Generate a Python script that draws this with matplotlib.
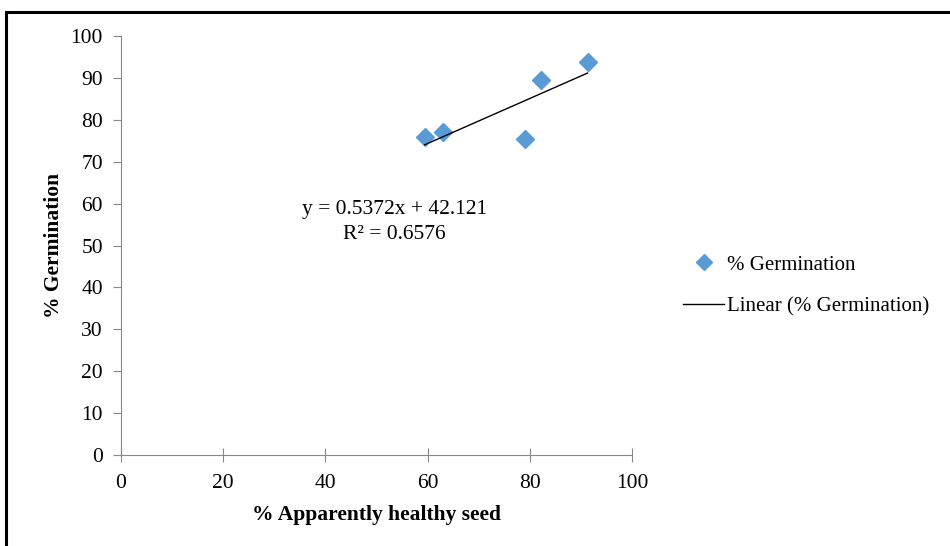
import matplotlib.pyplot as plt
import numpy as np
from matplotlib.patches import Rectangle
from matplotlib.lines import Line2D

healthy = [59.4, 63.0, 79.1, 82.2, 91.3]
germination = [75.8, 77.1, 75.5, 89.5, 93.9]
slope = 0.5372
intercept = 42.121
x_ticks = [0, 20, 40, 60, 80, 100]
y_ticks = [0, 10, 20, 30, 40, 50, 60, 70, 80, 90, 100]

plt.rcParams['font.family'] = ['Liberation Serif', 'DejaVu Serif']

fig = plt.figure(figsize=(9.5, 5.46), dpi=100)
ax = fig.add_axes([0.1274, 0.1667, 0.5379, 0.7673])

# frame around the picture (right and bottom cut off)
fig.patches.append(Rectangle((6/950, -0.1), 1.2, 1 - 12/546 + 0.1, transform=fig.transFigure,
                             fill=False, edgecolor='black', linewidth=2.2))

ax.plot(healthy, germination, linestyle='none', marker='D', markersize=9.5,
        color='#5B9BD5', label='% Germination')

xl = np.array([min(healthy), max(healthy)])
ax.plot(xl, slope*xl + intercept, color='black', linewidth=1.0,
        label='Linear (% Germination)')

ax.text(53.5, 58.5, 'y = %.4fx + %.3f' % (slope, intercept), ha='center', va='center', fontsize=15.5)
ax.text(53.5, 52.6, 'R² = 0.6576', ha='center', va='center', fontsize=15.5)

ax.set_xlim(0, 100)
ax.set_ylim(0, 100)
ax.set_xticks(x_ticks)
ax.set_yticks(y_ticks)
ax.tick_params(labelsize=15.5, color='#888888')
ax.tick_params(axis='x', direction='inout', length=10, pad=9)
ax.tick_params(axis='y', direction='out', length=6, pad=7)
for s in ['top', 'right']:
    ax.spines[s].set_visible(False)
for s in ['left', 'bottom']:
    ax.spines[s].set_color('#888888')
    ax.spines[s].set_linewidth(0.8)

ax.set_xlabel('% Apparently healthy seed', fontsize=15.5, fontweight='bold', labelpad=8)
ax.set_ylabel('% Germination', fontsize=15.5, fontweight='bold', labelpad=5)

handles = [Line2D([], [], linestyle='none', marker='D', markersize=8, color='#5B9BD5'),
           Line2D([], [], color='black', linewidth=1.0)]
fig.legend(handles, ['% Germination', 'Linear (% Germination)'], loc='center left',
           bbox_to_anchor=(0.7105, 0.477), frameon=False, fontsize=15,
           handlelength=1.97, handletextpad=0.15, labelspacing=1.05, borderaxespad=0)

fig.savefig('out.png', dpi=100)
